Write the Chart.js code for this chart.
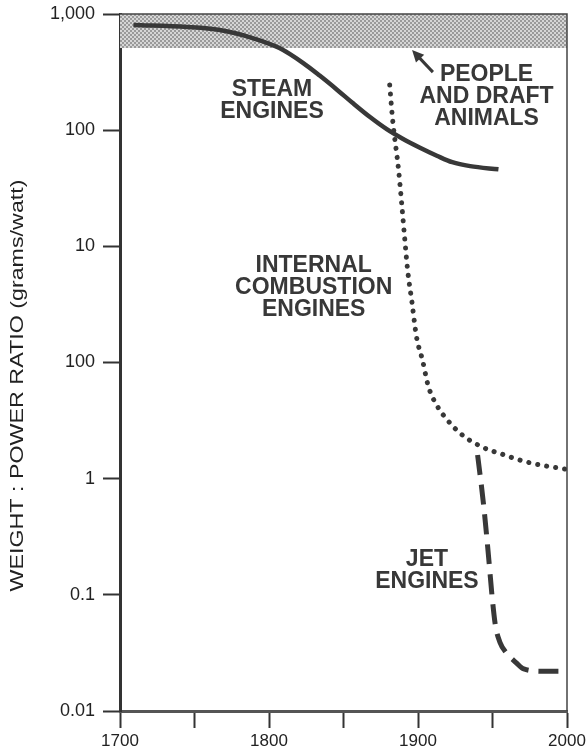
<!DOCTYPE html>
<html>
<head>
<meta charset="utf-8">
<script src="https://cdn.jsdelivr.net/npm/chart.js@4"></script>
<style>
  html, body { margin: 0; padding: 0; background: #fff; }
  #wrap { width: 587px; height: 754px; position: relative; }
</style>
</head>
<body>
<div id="wrap"><canvas id="weight-power"></canvas></div>
<script>
// values are in the y scale's own units (the axis runs 0.001 .. 1000, six decades,
// but the printed tick labels below skip a decade, as in the original figure)
var yTickValues = [1000, 100, 10, 1, 0.1, 0.01, 0.001];
var yTickLabels = ["1,000", "100", "10", "100", "1", "0.1", "0.01"];
var xTickLabels = [1700, 1800, 1900, 2000];

var steamYears  = [1709, 1745, 1767, 1789, 1807, 1823, 1834, 1846, 1856, 1868, 1879, 1890, 1901, 1913, 1923, 1935, 1954];
var steamValues = [804, 773, 728, 621, 509, 378, 295, 221, 172, 129, 102, 84, 71, 60, 53, 49, 46];

var iceYears  = [1881, 1883, 1887, 1889, 1891, 1893, 1896, 1899, 1903, 1907, 1913, 1918, 1928, 1942, 1956, 1975, 2000];
var iceValues = [245, 122, 45, 23.7, 12, 6.3, 3.26, 1.66, 1.05, 0.62, 0.42, 0.34, 0.248, 0.19, 0.163, 0.137, 0.12];

var jetYears  = [1940, 1944, 1947, 1950, 1952, 1955, 1959, 1966, 1971, 1984, 2000];
var jetValues = [0.16, 0.06, 0.024, 0.0089, 0.0054, 0.0039, 0.0032, 0.0026, 0.0023, 0.0022, 0.0022];

// people and draft animals band
var bandYears = [1700, 2000];
var bandValues = [510, 510];

// text labels: [lines, year, value]
var notes = [
  [["STEAM", "ENGINES"], 1802, 178],
  [["PEOPLE", "AND DRAFT", "ANIMALS"], 1946, 195],
  [["INTERNAL", "COMBUSTION", "ENGINES"], 1830, 4.4],
  [["JET", "ENGINES"], 1906, 0.016]
];
// arrow from label to band: [fromYear, fromValue, toYear, toValue]
var arrow = [1910, 316, 1896, 490];

function pts(xs, ys) {
  return xs.map(function (x, i) { return { x: x, y: ys[i] }; });
}

// fine checker stipple for the shaded band
var pc = document.createElement("canvas");
pc.width = 4; pc.height = 4;
var pctx = pc.getContext("2d");
pctx.fillStyle = "#d6d6d6";
pctx.fillRect(0, 0, 4, 4);
pctx.fillStyle = "#9a9a9a";
pctx.fillRect(0, 0, 2, 2);
pctx.fillRect(2, 2, 2, 2);
var bandPattern = pctx.createPattern(pc, "repeat");

var ink = "#383838";
var fontFam = "'Liberation Sans', Arial, sans-serif";

var extras = {
  id: "extras",
  afterDatasetsDraw: function (chart) {
    var c = chart.ctx, a = chart.chartArea;
    var xs = chart.scales.x, ys = chart.scales.y;
    c.save();
    // top and right frame
    c.strokeStyle = "#444";
    c.lineWidth = 1.5;
    c.beginPath();
    c.moveTo(a.left, a.top);
    c.lineTo(a.right, a.top);
    c.lineTo(a.right, a.bottom);
    c.stroke();

    // labels
    c.fillStyle = ink;
    c.font = "bold 23px " + fontFam;
    c.textAlign = "center";
    c.textBaseline = "middle";
    notes.forEach(function (n) {
      var px = xs.getPixelForValue(n[1]);
      var py = ys.getPixelForValue(n[2]);
      var lh = 22;
      var y0 = py - (n[0].length - 1) * lh / 2;
      n[0].forEach(function (t, i) { c.fillText(t, px, y0 + i * lh); });
    });

    // arrow
    var x1 = xs.getPixelForValue(arrow[0]), y1 = ys.getPixelForValue(arrow[1]);
    var x2 = xs.getPixelForValue(arrow[2]), y2 = ys.getPixelForValue(arrow[3]);
    var ang = Math.atan2(y2 - y1, x2 - x1);
    c.strokeStyle = ink;
    c.lineWidth = 3;
    c.beginPath();
    c.moveTo(x1, y1);
    c.lineTo(x2 - 6 * Math.cos(ang), y2 - 6 * Math.sin(ang));
    c.stroke();
    c.beginPath();
    c.moveTo(x2, y2);
    c.lineTo(x2 - 13 * Math.cos(ang - 0.45), y2 - 13 * Math.sin(ang - 0.45));
    c.lineTo(x2 - 13 * Math.cos(ang + 0.45), y2 - 13 * Math.sin(ang + 0.45));
    c.closePath();
    c.fill();

    // y axis title, stretched along its length like the original lettering
    var title = "WEIGHT : POWER RATIO (grams/watt)";
    c.fillStyle = "#222";
    c.font = "19px " + fontFam;
    var w = c.measureText(title).width;
    c.translate(18, (a.top + a.bottom) / 2 + 23);
    c.rotate(-Math.PI / 2);
    c.scale(412 / w, 1);
    c.fillText(title, 0, 0);
    c.restore();
  }
};

var ctx = document.getElementById("weight-power").getContext("2d");
var chart = new Chart(ctx, {
  type: "line",
  data: {
    datasets: [
      {
        label: "Steam engines",
        data: pts(steamYears, steamValues),
        borderColor: ink,
        borderWidth: 4.5,
        cubicInterpolationMode: "monotone",
        pointRadius: 0,
        fill: false
      },
      {
        label: "Internal combustion engines",
        data: pts(iceYears, iceValues),
        borderColor: ink,
        borderWidth: 5,
        borderDash: [0.1, 9],
        borderCapStyle: "round",
        cubicInterpolationMode: "monotone",
        pointRadius: 0,
        fill: false
      },
      {
        label: "Jet engines",
        data: pts(jetYears, jetValues),
        borderColor: ink,
        borderWidth: 5,
        borderDash: [20, 10],
        cubicInterpolationMode: "monotone",
        pointRadius: 0,
        fill: false
      },
      {
        label: "People and draft animals",
        data: pts(bandYears, bandValues),
        borderWidth: 0,
        borderColor: "rgba(0,0,0,0)",
        backgroundColor: bandPattern,
        pointRadius: 0,
        fill: "end"
      }
    ]
  },
  options: {
    responsive: true,
    maintainAspectRatio: false,
    animation: false,
    layout: { padding: { top: 14, right: 20, left: 0, bottom: 0 } },
    plugins: {
      legend: { display: false },
      tooltip: { enabled: false }
    },
    scales: {
      x: {
        type: "linear",
        min: 1700,
        max: 2000,
        afterBuildTicks: function (s) {
          var t = [];
          for (var v = 1700; v <= 2000; v += 50) t.push({ value: v });
          s.ticks = t;
        },
        afterFit: function (s) { s.height = 43; s.paddingLeft = 0; s.paddingRight = 0; },
        grid: { drawOnChartArea: false, drawTicks: true, tickLength: 17, tickWidth: 2, tickColor: "#333" },
        border: { display: true, color: "#555", width: 3 },
        ticks: {
          padding: 3,
          maxRotation: 0,
          color: "#222",
          font: { family: fontFam, size: 17 },
          callback: function (v) { return xTickLabels.indexOf(v) >= 0 ? String(v) : ""; }
        }
      },
      y: {
        type: "logarithmic",
        min: 0.001,
        max: 1000,
        afterBuildTicks: function (s) {
          s.ticks = yTickValues.map(function (v) { return { value: v }; });
        },
        afterFit: function (s) { s.width = 120; s.paddingTop = 0; s.paddingBottom = 0; },
        grid: { drawOnChartArea: false, drawTicks: true, tickLength: 17, tickWidth: 2, tickColor: "#333" },
        border: { display: true, color: "#333", width: 3 },
        ticks: {
          padding: 8,
          color: "#222",
          font: { family: fontFam, size: 18, lineHeight: 1 },
          callback: function (v) {
            var i = yTickValues.findIndex(function (t) { return Math.abs(t - v) / t < 1e-6; });
            return i >= 0 ? yTickLabels[i] : "";
          }
        }
      }
    }
  },
  plugins: [extras]
});
</script>
</body>
</html>
